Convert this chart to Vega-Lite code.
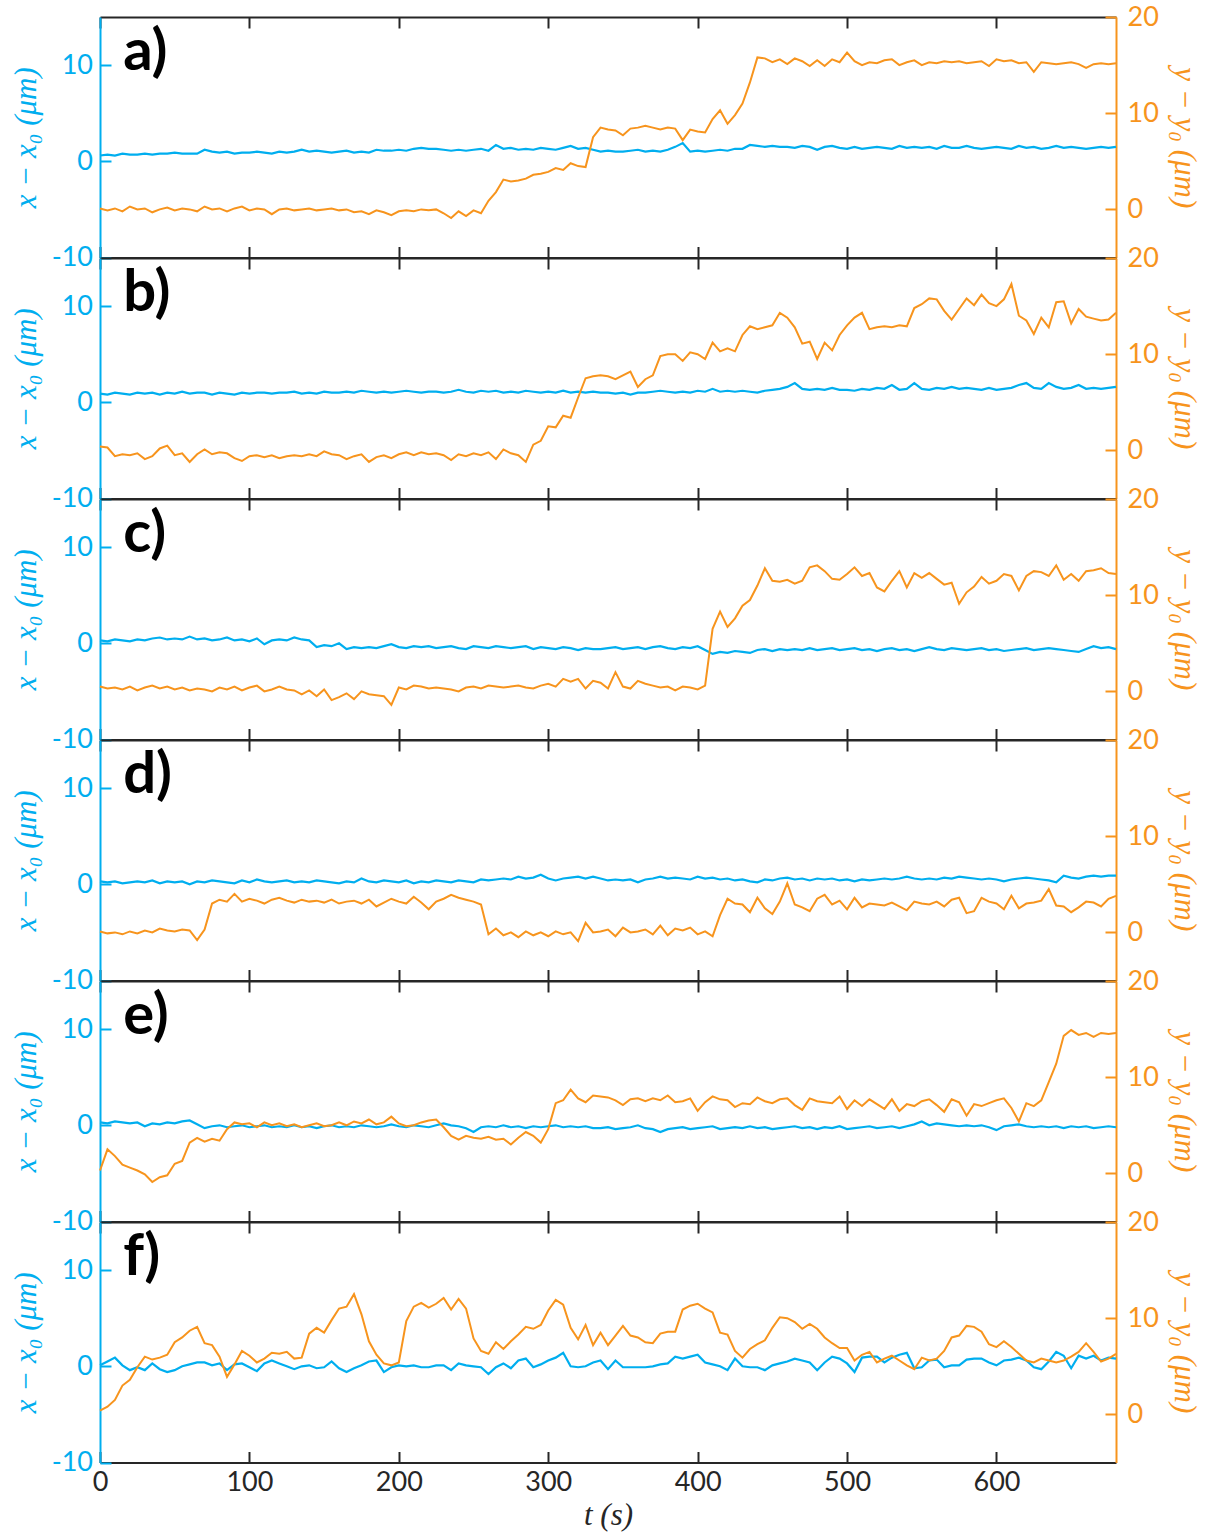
{
  "$schema": "https://vega.github.io/schema/vega-lite/v6.json",
  "background": "white",
  "padding": {"left": 10, "top": 3, "right": 5, "bottom": 5},
  "bounds": "flush",
  "spacing": 0,
  "config": {
    "view": {"stroke": null},
    "axis": {"grid": false, "labelFlush": false, "labelOverlap": false, "tickSize": -11, "tickWidth": 2, "domainWidth": 2, "labelFont": "Lato", "labelFontSize": 27, "titleFont": "Liberation Serif", "titleFontStyle": "italic", "titleFontWeight": "normal", "titleFontSize": 31},
    "axisX": {"domainColor": "#262626", "tickColor": "#262626", "labelColor": "#262626", "titleColor": "#262626"},
    "axisLeft": {"domainColor": "#00AEEF", "tickColor": "#00AEEF", "labelColor": "#00AEEF", "titleColor": "#00AEEF", "labelPadding": 18.5, "titlePadding": 9, "labelExpr": "replace(datum.label, '\u2212', '-')"},
    "axisRight": {"domainColor": "#F7941D", "tickColor": "#F7941D", "labelColor": "#F7941D", "titleColor": "#F7941D", "labelPadding": 22, "titlePadding": 9}
  },
  "data": {"values": [
    {"p":"a","t":0,"x":0.6,"y":0.1},{"p":"a","t":5,"x":0.7,"y":-0.1},{"p":"a","t":10,"x":0.6,"y":0.1},{"p":"a","t":15,"x":0.8,"y":-0.2},{"p":"a","t":20,"x":0.7,"y":0.3},{"p":"a","t":25,"x":0.7,"y":0.0},{"p":"a","t":30,"x":0.8,"y":0.1},{"p":"a","t":35,"x":0.7,"y":-0.3},{"p":"a","t":40,"x":0.8,"y":0.0},{"p":"a","t":45,"x":0.8,"y":0.2},{"p":"a","t":50,"x":0.9,"y":-0.1},{"p":"a","t":55,"x":0.8,"y":0.1},{"p":"a","t":60,"x":0.8,"y":0.0},{"p":"a","t":65,"x":0.8,"y":-0.2},{"p":"a","t":70,"x":1.2,"y":0.3},{"p":"a","t":75,"x":1.0,"y":0.0},{"p":"a","t":80,"x":0.9,"y":0.1},{"p":"a","t":85,"x":1.0,"y":-0.2},{"p":"a","t":90,"x":0.8,"y":0.1},{"p":"a","t":95,"x":0.9,"y":0.3},{"p":"a","t":100,"x":0.9,"y":-0.1},{"p":"a","t":105,"x":1.0,"y":0.1},{"p":"a","t":110,"x":0.9,"y":0.0},{"p":"a","t":115,"x":0.8,"y":-0.5},{"p":"a","t":120,"x":1.0,"y":0.0},{"p":"a","t":125,"x":0.9,"y":0.1},{"p":"a","t":130,"x":1.0,"y":-0.1},{"p":"a","t":135,"x":1.2,"y":0.0},{"p":"a","t":140,"x":1.0,"y":0.1},{"p":"a","t":145,"x":1.1,"y":-0.1},{"p":"a","t":150,"x":1.0,"y":0.0},{"p":"a","t":155,"x":0.9,"y":0.1},{"p":"a","t":160,"x":1.0,"y":-0.1},{"p":"a","t":165,"x":1.1,"y":0.0},{"p":"a","t":170,"x":0.9,"y":-0.3},{"p":"a","t":175,"x":1.0,"y":-0.2},{"p":"a","t":180,"x":0.9,"y":-0.5},{"p":"a","t":185,"x":1.2,"y":-0.1},{"p":"a","t":190,"x":1.1,"y":-0.3},{"p":"a","t":195,"x":1.1,"y":-0.6},{"p":"a","t":200,"x":1.2,"y":-0.2},{"p":"a","t":205,"x":1.1,"y":-0.1},{"p":"a","t":210,"x":1.3,"y":-0.2},{"p":"a","t":215,"x":1.4,"y":0.0},{"p":"a","t":220,"x":1.3,"y":-0.1},{"p":"a","t":225,"x":1.3,"y":0.0},{"p":"a","t":230,"x":1.2,"y":-0.4},{"p":"a","t":235,"x":1.1,"y":-0.9},{"p":"a","t":240,"x":1.2,"y":-0.2},{"p":"a","t":245,"x":1.1,"y":-0.7},{"p":"a","t":250,"x":1.2,"y":-0.1},{"p":"a","t":255,"x":1.3,"y":-0.4},{"p":"a","t":260,"x":1.1,"y":0.9},{"p":"a","t":265,"x":1.7,"y":1.8},{"p":"a","t":270,"x":1.3,"y":3.1},{"p":"a","t":275,"x":1.4,"y":2.9},{"p":"a","t":280,"x":1.2,"y":3.0},{"p":"a","t":285,"x":1.3,"y":3.2},{"p":"a","t":290,"x":1.2,"y":3.6},{"p":"a","t":295,"x":1.4,"y":3.7},{"p":"a","t":300,"x":1.3,"y":3.9},{"p":"a","t":305,"x":1.2,"y":4.3},{"p":"a","t":310,"x":1.4,"y":4.1},{"p":"a","t":315,"x":1.6,"y":4.8},{"p":"a","t":320,"x":1.3,"y":4.5},{"p":"a","t":325,"x":1.4,"y":4.4},{"p":"a","t":330,"x":1.2,"y":7.5},{"p":"a","t":335,"x":1.0,"y":8.5},{"p":"a","t":340,"x":1.1,"y":8.3},{"p":"a","t":345,"x":1.0,"y":8.2},{"p":"a","t":350,"x":1.0,"y":7.7},{"p":"a","t":355,"x":1.1,"y":8.4},{"p":"a","t":360,"x":1.2,"y":8.5},{"p":"a","t":365,"x":1.0,"y":8.7},{"p":"a","t":370,"x":1.1,"y":8.5},{"p":"a","t":375,"x":1.0,"y":8.3},{"p":"a","t":380,"x":1.2,"y":8.5},{"p":"a","t":385,"x":1.5,"y":8.4},{"p":"a","t":390,"x":1.9,"y":7.2},{"p":"a","t":395,"x":1.0,"y":8.3},{"p":"a","t":400,"x":1.1,"y":8.1},{"p":"a","t":405,"x":1.0,"y":8.0},{"p":"a","t":410,"x":1.1,"y":9.4},{"p":"a","t":415,"x":1.2,"y":10.3},{"p":"a","t":420,"x":1.1,"y":8.9},{"p":"a","t":425,"x":1.3,"y":9.8},{"p":"a","t":430,"x":1.3,"y":11.0},{"p":"a","t":435,"x":1.7,"y":13.2},{"p":"a","t":440,"x":1.6,"y":15.8},{"p":"a","t":445,"x":1.5,"y":15.7},{"p":"a","t":450,"x":1.6,"y":15.3},{"p":"a","t":455,"x":1.5,"y":15.6},{"p":"a","t":460,"x":1.5,"y":15.1},{"p":"a","t":465,"x":1.4,"y":15.7},{"p":"a","t":470,"x":1.6,"y":15.4},{"p":"a","t":475,"x":1.5,"y":14.9},{"p":"a","t":480,"x":1.2,"y":15.5},{"p":"a","t":485,"x":1.5,"y":14.9},{"p":"a","t":490,"x":1.6,"y":15.6},{"p":"a","t":495,"x":1.4,"y":15.3},{"p":"a","t":500,"x":1.3,"y":16.3},{"p":"a","t":505,"x":1.5,"y":15.4},{"p":"a","t":510,"x":1.3,"y":15.0},{"p":"a","t":515,"x":1.4,"y":15.3},{"p":"a","t":520,"x":1.5,"y":15.2},{"p":"a","t":525,"x":1.4,"y":15.5},{"p":"a","t":530,"x":1.3,"y":15.6},{"p":"a","t":535,"x":1.6,"y":15.0},{"p":"a","t":540,"x":1.4,"y":15.3},{"p":"a","t":545,"x":1.5,"y":15.5},{"p":"a","t":550,"x":1.4,"y":15.0},{"p":"a","t":555,"x":1.5,"y":15.3},{"p":"a","t":560,"x":1.3,"y":15.2},{"p":"a","t":565,"x":1.6,"y":15.4},{"p":"a","t":570,"x":1.4,"y":15.3},{"p":"a","t":575,"x":1.4,"y":15.4},{"p":"a","t":580,"x":1.6,"y":15.2},{"p":"a","t":585,"x":1.4,"y":15.3},{"p":"a","t":590,"x":1.3,"y":15.4},{"p":"a","t":595,"x":1.4,"y":14.9},{"p":"a","t":600,"x":1.5,"y":15.6},{"p":"a","t":605,"x":1.4,"y":15.4},{"p":"a","t":610,"x":1.3,"y":15.5},{"p":"a","t":615,"x":1.6,"y":15.2},{"p":"a","t":620,"x":1.4,"y":15.3},{"p":"a","t":625,"x":1.5,"y":14.3},{"p":"a","t":630,"x":1.3,"y":15.3},{"p":"a","t":635,"x":1.4,"y":15.2},{"p":"a","t":640,"x":1.6,"y":15.1},{"p":"a","t":645,"x":1.4,"y":15.2},{"p":"a","t":650,"x":1.5,"y":15.3},{"p":"a","t":655,"x":1.4,"y":15.1},{"p":"a","t":660,"x":1.3,"y":14.7},{"p":"a","t":665,"x":1.4,"y":15.1},{"p":"a","t":670,"x":1.5,"y":15.2},{"p":"a","t":675,"x":1.4,"y":15.1},{"p":"a","t":680,"x":1.5,"y":15.2},
    {"p":"b","t":0,"x":0.9,"y":0.4},{"p":"b","t":5,"x":0.8,"y":0.3},{"p":"b","t":10,"x":1.0,"y":-0.6},{"p":"b","t":15,"x":0.9,"y":-0.4},{"p":"b","t":20,"x":0.8,"y":-0.5},{"p":"b","t":25,"x":1.0,"y":-0.3},{"p":"b","t":30,"x":0.9,"y":-0.9},{"p":"b","t":35,"x":1.0,"y":-0.6},{"p":"b","t":40,"x":0.8,"y":0.2},{"p":"b","t":45,"x":1.0,"y":0.5},{"p":"b","t":50,"x":0.9,"y":-0.5},{"p":"b","t":55,"x":1.1,"y":-0.3},{"p":"b","t":60,"x":0.9,"y":-1.2},{"p":"b","t":65,"x":1.0,"y":-0.4},{"p":"b","t":70,"x":1.0,"y":0.1},{"p":"b","t":75,"x":0.8,"y":-0.4},{"p":"b","t":80,"x":1.0,"y":-0.2},{"p":"b","t":85,"x":0.9,"y":-0.3},{"p":"b","t":90,"x":0.8,"y":-0.8},{"p":"b","t":95,"x":1.0,"y":-1.1},{"p":"b","t":100,"x":0.9,"y":-0.6},{"p":"b","t":105,"x":1.0,"y":-0.5},{"p":"b","t":110,"x":1.0,"y":-0.7},{"p":"b","t":115,"x":0.9,"y":-0.5},{"p":"b","t":120,"x":1.0,"y":-0.8},{"p":"b","t":125,"x":1.0,"y":-0.6},{"p":"b","t":130,"x":1.1,"y":-0.5},{"p":"b","t":135,"x":0.9,"y":-0.6},{"p":"b","t":140,"x":1.0,"y":-0.4},{"p":"b","t":145,"x":0.9,"y":-0.6},{"p":"b","t":150,"x":1.1,"y":-0.1},{"p":"b","t":155,"x":1.0,"y":-0.4},{"p":"b","t":160,"x":1.0,"y":-0.5},{"p":"b","t":165,"x":1.1,"y":-0.9},{"p":"b","t":170,"x":1.0,"y":-0.6},{"p":"b","t":175,"x":1.2,"y":-0.4},{"p":"b","t":180,"x":1.1,"y":-1.2},{"p":"b","t":185,"x":1.0,"y":-0.7},{"p":"b","t":190,"x":1.1,"y":-0.5},{"p":"b","t":195,"x":1.0,"y":-0.8},{"p":"b","t":200,"x":1.1,"y":-0.4},{"p":"b","t":205,"x":1.2,"y":-0.2},{"p":"b","t":210,"x":1.1,"y":-0.5},{"p":"b","t":215,"x":1.0,"y":-0.2},{"p":"b","t":220,"x":1.1,"y":-0.4},{"p":"b","t":225,"x":1.1,"y":-0.3},{"p":"b","t":230,"x":1.0,"y":-0.5},{"p":"b","t":235,"x":1.1,"y":-1.0},{"p":"b","t":240,"x":1.3,"y":-0.4},{"p":"b","t":245,"x":1.1,"y":-0.6},{"p":"b","t":250,"x":1.0,"y":-0.3},{"p":"b","t":255,"x":1.2,"y":-0.5},{"p":"b","t":260,"x":1.1,"y":-0.2},{"p":"b","t":265,"x":1.2,"y":-0.9},{"p":"b","t":270,"x":1.0,"y":0.1},{"p":"b","t":275,"x":1.1,"y":-0.3},{"p":"b","t":280,"x":1.0,"y":-0.5},{"p":"b","t":285,"x":1.2,"y":-1.2},{"p":"b","t":290,"x":1.1,"y":0.6},{"p":"b","t":295,"x":1.0,"y":1.0},{"p":"b","t":300,"x":1.1,"y":2.5},{"p":"b","t":305,"x":1.0,"y":2.4},{"p":"b","t":310,"x":1.2,"y":3.6},{"p":"b","t":315,"x":1.0,"y":3.4},{"p":"b","t":320,"x":1.1,"y":5.5},{"p":"b","t":325,"x":1.0,"y":7.5},{"p":"b","t":330,"x":1.1,"y":7.7},{"p":"b","t":335,"x":1.0,"y":7.8},{"p":"b","t":340,"x":1.0,"y":7.7},{"p":"b","t":345,"x":0.9,"y":7.4},{"p":"b","t":350,"x":1.0,"y":7.8},{"p":"b","t":355,"x":0.8,"y":8.2},{"p":"b","t":360,"x":1.0,"y":6.6},{"p":"b","t":365,"x":1.0,"y":7.4},{"p":"b","t":370,"x":1.1,"y":7.8},{"p":"b","t":375,"x":1.2,"y":9.8},{"p":"b","t":380,"x":1.1,"y":10.0},{"p":"b","t":385,"x":1.0,"y":10.0},{"p":"b","t":390,"x":1.1,"y":9.3},{"p":"b","t":395,"x":1.0,"y":10.2},{"p":"b","t":400,"x":1.2,"y":10.0},{"p":"b","t":405,"x":1.1,"y":9.5},{"p":"b","t":410,"x":1.4,"y":11.2},{"p":"b","t":415,"x":1.1,"y":10.3},{"p":"b","t":420,"x":1.2,"y":10.6},{"p":"b","t":425,"x":1.1,"y":10.3},{"p":"b","t":430,"x":1.2,"y":12.0},{"p":"b","t":435,"x":1.1,"y":12.9},{"p":"b","t":440,"x":1.0,"y":12.6},{"p":"b","t":445,"x":1.2,"y":12.8},{"p":"b","t":450,"x":1.3,"y":13.0},{"p":"b","t":455,"x":1.4,"y":14.3},{"p":"b","t":460,"x":1.6,"y":13.8},{"p":"b","t":465,"x":2.0,"y":12.8},{"p":"b","t":470,"x":1.4,"y":11.1},{"p":"b","t":475,"x":1.3,"y":11.3},{"p":"b","t":480,"x":1.4,"y":9.5},{"p":"b","t":485,"x":1.3,"y":11.2},{"p":"b","t":490,"x":1.5,"y":10.4},{"p":"b","t":495,"x":1.3,"y":12.0},{"p":"b","t":500,"x":1.3,"y":13.0},{"p":"b","t":505,"x":1.2,"y":13.8},{"p":"b","t":510,"x":1.4,"y":14.3},{"p":"b","t":515,"x":1.3,"y":12.6},{"p":"b","t":520,"x":1.5,"y":12.8},{"p":"b","t":525,"x":1.4,"y":12.9},{"p":"b","t":530,"x":1.8,"y":12.8},{"p":"b","t":535,"x":1.3,"y":13.0},{"p":"b","t":540,"x":1.4,"y":12.9},{"p":"b","t":545,"x":2.0,"y":14.8},{"p":"b","t":550,"x":1.4,"y":15.2},{"p":"b","t":555,"x":1.3,"y":15.8},{"p":"b","t":560,"x":1.5,"y":15.7},{"p":"b","t":565,"x":1.4,"y":14.5},{"p":"b","t":570,"x":1.6,"y":13.6},{"p":"b","t":575,"x":1.4,"y":14.7},{"p":"b","t":580,"x":1.5,"y":15.8},{"p":"b","t":585,"x":1.4,"y":15.1},{"p":"b","t":590,"x":1.3,"y":16.2},{"p":"b","t":595,"x":1.5,"y":15.3},{"p":"b","t":600,"x":1.3,"y":15.0},{"p":"b","t":605,"x":1.4,"y":15.7},{"p":"b","t":610,"x":1.5,"y":17.3},{"p":"b","t":615,"x":1.8,"y":14.0},{"p":"b","t":620,"x":2.0,"y":13.5},{"p":"b","t":625,"x":1.5,"y":12.1},{"p":"b","t":630,"x":1.4,"y":13.8},{"p":"b","t":635,"x":2.0,"y":12.8},{"p":"b","t":640,"x":1.6,"y":15.4},{"p":"b","t":645,"x":1.4,"y":15.5},{"p":"b","t":650,"x":1.5,"y":13.2},{"p":"b","t":655,"x":1.8,"y":14.7},{"p":"b","t":660,"x":1.4,"y":13.9},{"p":"b","t":665,"x":1.5,"y":13.7},{"p":"b","t":670,"x":1.4,"y":13.5},{"p":"b","t":675,"x":1.5,"y":13.6},{"p":"b","t":680,"x":1.6,"y":14.3},
    {"p":"c","t":0,"x":0.3,"y":0.5},{"p":"c","t":5,"x":0.2,"y":0.3},{"p":"c","t":10,"x":0.4,"y":0.4},{"p":"c","t":15,"x":0.3,"y":0.2},{"p":"c","t":20,"x":0.2,"y":0.5},{"p":"c","t":25,"x":0.4,"y":0.1},{"p":"c","t":30,"x":0.3,"y":0.4},{"p":"c","t":35,"x":0.5,"y":0.6},{"p":"c","t":40,"x":0.6,"y":0.3},{"p":"c","t":45,"x":0.4,"y":0.5},{"p":"c","t":50,"x":0.5,"y":0.2},{"p":"c","t":55,"x":0.4,"y":0.4},{"p":"c","t":60,"x":0.7,"y":0.1},{"p":"c","t":65,"x":0.4,"y":0.3},{"p":"c","t":70,"x":0.5,"y":0.2},{"p":"c","t":75,"x":0.3,"y":0.0},{"p":"c","t":80,"x":0.4,"y":0.4},{"p":"c","t":85,"x":0.6,"y":0.2},{"p":"c","t":90,"x":0.3,"y":0.5},{"p":"c","t":95,"x":0.4,"y":0.1},{"p":"c","t":100,"x":0.2,"y":0.4},{"p":"c","t":105,"x":0.5,"y":0.6},{"p":"c","t":110,"x":-0.1,"y":0.0},{"p":"c","t":115,"x":0.3,"y":0.2},{"p":"c","t":120,"x":0.4,"y":0.5},{"p":"c","t":125,"x":0.3,"y":0.2},{"p":"c","t":130,"x":0.6,"y":0.1},{"p":"c","t":135,"x":0.4,"y":-0.3},{"p":"c","t":140,"x":0.3,"y":0.1},{"p":"c","t":145,"x":-0.4,"y":-0.5},{"p":"c","t":150,"x":-0.2,"y":0.2},{"p":"c","t":155,"x":-0.3,"y":-0.9},{"p":"c","t":160,"x":0.0,"y":-0.6},{"p":"c","t":165,"x":-0.6,"y":-0.2},{"p":"c","t":170,"x":-0.4,"y":-0.8},{"p":"c","t":175,"x":-0.5,"y":0.0},{"p":"c","t":180,"x":-0.4,"y":-0.3},{"p":"c","t":185,"x":-0.5,"y":-0.4},{"p":"c","t":190,"x":-0.3,"y":-0.5},{"p":"c","t":195,"x":-0.1,"y":-1.4},{"p":"c","t":200,"x":-0.4,"y":0.4},{"p":"c","t":205,"x":-0.5,"y":0.2},{"p":"c","t":210,"x":-0.3,"y":0.6},{"p":"c","t":215,"x":-0.4,"y":0.5},{"p":"c","t":220,"x":-0.3,"y":0.3},{"p":"c","t":225,"x":-0.5,"y":0.4},{"p":"c","t":230,"x":-0.4,"y":0.3},{"p":"c","t":235,"x":-0.3,"y":0.2},{"p":"c","t":240,"x":-0.5,"y":0.0},{"p":"c","t":245,"x":-0.6,"y":0.4},{"p":"c","t":250,"x":-0.3,"y":0.5},{"p":"c","t":255,"x":-0.4,"y":0.3},{"p":"c","t":260,"x":-0.5,"y":0.6},{"p":"c","t":265,"x":-0.3,"y":0.5},{"p":"c","t":270,"x":-0.4,"y":0.4},{"p":"c","t":275,"x":-0.5,"y":0.5},{"p":"c","t":280,"x":-0.4,"y":0.6},{"p":"c","t":285,"x":-0.3,"y":0.4},{"p":"c","t":290,"x":-0.6,"y":0.3},{"p":"c","t":295,"x":-0.4,"y":0.6},{"p":"c","t":300,"x":-0.5,"y":0.8},{"p":"c","t":305,"x":-0.6,"y":0.5},{"p":"c","t":310,"x":-0.4,"y":1.3},{"p":"c","t":315,"x":-0.5,"y":1.0},{"p":"c","t":320,"x":-0.7,"y":1.3},{"p":"c","t":325,"x":-0.5,"y":0.3},{"p":"c","t":330,"x":-0.6,"y":1.1},{"p":"c","t":335,"x":-0.6,"y":0.9},{"p":"c","t":340,"x":-0.5,"y":0.3},{"p":"c","t":345,"x":-0.4,"y":2.0},{"p":"c","t":350,"x":-0.6,"y":0.5},{"p":"c","t":355,"x":-0.5,"y":0.3},{"p":"c","t":360,"x":-0.4,"y":1.1},{"p":"c","t":365,"x":-0.6,"y":0.8},{"p":"c","t":370,"x":-0.4,"y":0.6},{"p":"c","t":375,"x":-0.3,"y":0.4},{"p":"c","t":380,"x":-0.5,"y":0.5},{"p":"c","t":385,"x":-0.6,"y":0.1},{"p":"c","t":390,"x":-0.4,"y":0.5},{"p":"c","t":395,"x":-0.5,"y":0.4},{"p":"c","t":400,"x":-0.3,"y":0.2},{"p":"c","t":405,"x":-0.7,"y":0.6},{"p":"c","t":410,"x":-1.1,"y":6.5},{"p":"c","t":415,"x":-0.9,"y":8.3},{"p":"c","t":420,"x":-1.0,"y":6.7},{"p":"c","t":425,"x":-0.8,"y":7.6},{"p":"c","t":430,"x":-0.9,"y":8.9},{"p":"c","t":435,"x":-1.0,"y":9.5},{"p":"c","t":440,"x":-0.7,"y":11.0},{"p":"c","t":445,"x":-0.6,"y":12.8},{"p":"c","t":450,"x":-0.8,"y":11.5},{"p":"c","t":455,"x":-0.6,"y":11.4},{"p":"c","t":460,"x":-0.7,"y":11.6},{"p":"c","t":465,"x":-0.6,"y":11.2},{"p":"c","t":470,"x":-0.7,"y":11.5},{"p":"c","t":475,"x":-0.5,"y":12.9},{"p":"c","t":480,"x":-0.7,"y":13.1},{"p":"c","t":485,"x":-0.6,"y":12.5},{"p":"c","t":490,"x":-0.5,"y":11.7},{"p":"c","t":495,"x":-0.7,"y":11.6},{"p":"c","t":500,"x":-0.6,"y":12.2},{"p":"c","t":505,"x":-0.5,"y":12.9},{"p":"c","t":510,"x":-0.7,"y":12.0},{"p":"c","t":515,"x":-0.6,"y":12.3},{"p":"c","t":520,"x":-0.8,"y":10.8},{"p":"c","t":525,"x":-0.6,"y":10.4},{"p":"c","t":530,"x":-0.5,"y":11.5},{"p":"c","t":535,"x":-0.7,"y":12.5},{"p":"c","t":540,"x":-0.6,"y":10.8},{"p":"c","t":545,"x":-0.8,"y":12.3},{"p":"c","t":550,"x":-0.6,"y":11.8},{"p":"c","t":555,"x":-0.4,"y":12.3},{"p":"c","t":560,"x":-0.6,"y":11.7},{"p":"c","t":565,"x":-0.7,"y":11.1},{"p":"c","t":570,"x":-0.5,"y":11.3},{"p":"c","t":575,"x":-0.6,"y":9.1},{"p":"c","t":580,"x":-0.7,"y":10.3},{"p":"c","t":585,"x":-0.6,"y":10.9},{"p":"c","t":590,"x":-0.5,"y":11.9},{"p":"c","t":595,"x":-0.7,"y":11.2},{"p":"c","t":600,"x":-0.6,"y":11.5},{"p":"c","t":605,"x":-0.8,"y":12.2},{"p":"c","t":610,"x":-0.7,"y":12.0},{"p":"c","t":615,"x":-0.6,"y":10.5},{"p":"c","t":620,"x":-0.5,"y":12.0},{"p":"c","t":625,"x":-0.7,"y":12.5},{"p":"c","t":630,"x":-0.6,"y":12.4},{"p":"c","t":635,"x":-0.5,"y":12.0},{"p":"c","t":640,"x":-0.6,"y":13.1},{"p":"c","t":645,"x":-0.7,"y":11.6},{"p":"c","t":650,"x":-0.8,"y":12.2},{"p":"c","t":655,"x":-0.9,"y":11.5},{"p":"c","t":660,"x":-0.6,"y":12.5},{"p":"c","t":665,"x":-0.3,"y":12.6},{"p":"c","t":670,"x":-0.5,"y":12.8},{"p":"c","t":675,"x":-0.4,"y":12.3},{"p":"c","t":680,"x":-0.6,"y":12.2},
    {"p":"d","t":0,"x":0.3,"y":0.1},{"p":"d","t":5,"x":0.2,"y":-0.1},{"p":"d","t":10,"x":0.3,"y":0.0},{"p":"d","t":15,"x":0.1,"y":-0.2},{"p":"d","t":20,"x":0.2,"y":0.1},{"p":"d","t":25,"x":0.3,"y":-0.1},{"p":"d","t":30,"x":0.2,"y":0.2},{"p":"d","t":35,"x":0.4,"y":0.0},{"p":"d","t":40,"x":0.1,"y":0.4},{"p":"d","t":45,"x":0.3,"y":0.2},{"p":"d","t":50,"x":0.2,"y":0.1},{"p":"d","t":55,"x":0.3,"y":0.3},{"p":"d","t":60,"x":0.0,"y":0.2},{"p":"d","t":65,"x":0.3,"y":-0.8},{"p":"d","t":70,"x":0.2,"y":0.3},{"p":"d","t":75,"x":0.4,"y":3.0},{"p":"d","t":80,"x":0.3,"y":3.4},{"p":"d","t":85,"x":0.2,"y":3.2},{"p":"d","t":90,"x":0.1,"y":4.0},{"p":"d","t":95,"x":0.4,"y":3.2},{"p":"d","t":100,"x":0.2,"y":3.5},{"p":"d","t":105,"x":0.5,"y":3.3},{"p":"d","t":110,"x":0.3,"y":3.0},{"p":"d","t":115,"x":0.2,"y":3.4},{"p":"d","t":120,"x":0.3,"y":3.6},{"p":"d","t":125,"x":0.4,"y":3.3},{"p":"d","t":130,"x":0.2,"y":3.1},{"p":"d","t":135,"x":0.3,"y":3.4},{"p":"d","t":140,"x":0.2,"y":3.2},{"p":"d","t":145,"x":0.4,"y":3.3},{"p":"d","t":150,"x":0.3,"y":3.1},{"p":"d","t":155,"x":0.2,"y":3.4},{"p":"d","t":160,"x":0.1,"y":3.0},{"p":"d","t":165,"x":0.3,"y":3.2},{"p":"d","t":170,"x":0.2,"y":3.3},{"p":"d","t":175,"x":0.6,"y":3.0},{"p":"d","t":180,"x":0.3,"y":3.4},{"p":"d","t":185,"x":0.2,"y":2.7},{"p":"d","t":190,"x":0.4,"y":3.1},{"p":"d","t":195,"x":0.3,"y":3.5},{"p":"d","t":200,"x":0.2,"y":3.2},{"p":"d","t":205,"x":0.4,"y":3.0},{"p":"d","t":210,"x":0.1,"y":3.7},{"p":"d","t":215,"x":0.3,"y":3.1},{"p":"d","t":220,"x":0.2,"y":2.4},{"p":"d","t":225,"x":0.4,"y":3.2},{"p":"d","t":230,"x":0.3,"y":3.5},{"p":"d","t":235,"x":0.2,"y":3.9},{"p":"d","t":240,"x":0.4,"y":3.6},{"p":"d","t":245,"x":0.3,"y":3.4},{"p":"d","t":250,"x":0.2,"y":3.2},{"p":"d","t":255,"x":0.5,"y":2.9},{"p":"d","t":260,"x":0.4,"y":-0.2},{"p":"d","t":265,"x":0.5,"y":0.4},{"p":"d","t":270,"x":0.6,"y":-0.3},{"p":"d","t":275,"x":0.5,"y":0.0},{"p":"d","t":280,"x":0.8,"y":-0.5},{"p":"d","t":285,"x":0.6,"y":0.1},{"p":"d","t":290,"x":0.7,"y":-0.3},{"p":"d","t":295,"x":1.0,"y":0.0},{"p":"d","t":300,"x":0.6,"y":-0.4},{"p":"d","t":305,"x":0.4,"y":0.1},{"p":"d","t":310,"x":0.6,"y":-0.2},{"p":"d","t":315,"x":0.7,"y":0.0},{"p":"d","t":320,"x":0.8,"y":-0.9},{"p":"d","t":325,"x":0.6,"y":1.0},{"p":"d","t":330,"x":0.8,"y":0.0},{"p":"d","t":335,"x":0.6,"y":0.1},{"p":"d","t":340,"x":0.4,"y":0.3},{"p":"d","t":345,"x":0.5,"y":-0.4},{"p":"d","t":350,"x":0.4,"y":0.5},{"p":"d","t":355,"x":0.5,"y":0.0},{"p":"d","t":360,"x":0.2,"y":0.1},{"p":"d","t":365,"x":0.5,"y":0.3},{"p":"d","t":370,"x":0.6,"y":-0.2},{"p":"d","t":375,"x":0.8,"y":0.7},{"p":"d","t":380,"x":0.6,"y":-0.3},{"p":"d","t":385,"x":0.7,"y":0.4},{"p":"d","t":390,"x":0.6,"y":0.2},{"p":"d","t":395,"x":0.5,"y":0.5},{"p":"d","t":400,"x":0.8,"y":-0.2},{"p":"d","t":405,"x":0.6,"y":0.1},{"p":"d","t":410,"x":0.7,"y":-0.4},{"p":"d","t":415,"x":0.5,"y":1.8},{"p":"d","t":420,"x":0.6,"y":3.5},{"p":"d","t":425,"x":0.4,"y":3.0},{"p":"d","t":430,"x":0.5,"y":2.9},{"p":"d","t":435,"x":0.3,"y":2.1},{"p":"d","t":440,"x":0.2,"y":3.6},{"p":"d","t":445,"x":0.5,"y":2.5},{"p":"d","t":450,"x":0.4,"y":1.9},{"p":"d","t":455,"x":0.6,"y":3.2},{"p":"d","t":460,"x":0.7,"y":5.1},{"p":"d","t":465,"x":0.5,"y":2.9},{"p":"d","t":470,"x":0.6,"y":2.6},{"p":"d","t":475,"x":0.4,"y":2.2},{"p":"d","t":480,"x":0.6,"y":3.5},{"p":"d","t":485,"x":0.5,"y":3.9},{"p":"d","t":490,"x":0.6,"y":2.9},{"p":"d","t":495,"x":0.4,"y":3.3},{"p":"d","t":500,"x":0.5,"y":2.4},{"p":"d","t":505,"x":0.3,"y":3.6},{"p":"d","t":510,"x":0.5,"y":2.6},{"p":"d","t":515,"x":0.4,"y":3.0},{"p":"d","t":520,"x":0.5,"y":2.9},{"p":"d","t":525,"x":0.6,"y":2.8},{"p":"d","t":530,"x":0.5,"y":3.1},{"p":"d","t":535,"x":0.6,"y":2.7},{"p":"d","t":540,"x":0.8,"y":2.3},{"p":"d","t":545,"x":0.6,"y":3.2},{"p":"d","t":550,"x":0.5,"y":3.0},{"p":"d","t":555,"x":0.6,"y":2.9},{"p":"d","t":560,"x":0.5,"y":3.2},{"p":"d","t":565,"x":0.7,"y":2.7},{"p":"d","t":570,"x":0.6,"y":3.4},{"p":"d","t":575,"x":0.8,"y":3.6},{"p":"d","t":580,"x":0.7,"y":2.0},{"p":"d","t":585,"x":0.6,"y":2.2},{"p":"d","t":590,"x":0.5,"y":3.6},{"p":"d","t":595,"x":0.6,"y":3.2},{"p":"d","t":600,"x":0.5,"y":3.0},{"p":"d","t":605,"x":0.3,"y":2.4},{"p":"d","t":610,"x":0.5,"y":3.8},{"p":"d","t":615,"x":0.6,"y":2.5},{"p":"d","t":620,"x":0.7,"y":3.0},{"p":"d","t":625,"x":0.6,"y":3.1},{"p":"d","t":630,"x":0.5,"y":3.3},{"p":"d","t":635,"x":0.4,"y":4.5},{"p":"d","t":640,"x":0.2,"y":2.8},{"p":"d","t":645,"x":0.9,"y":2.7},{"p":"d","t":650,"x":0.7,"y":2.1},{"p":"d","t":655,"x":0.6,"y":2.6},{"p":"d","t":660,"x":0.8,"y":3.2},{"p":"d","t":665,"x":0.9,"y":3.1},{"p":"d","t":670,"x":0.8,"y":2.7},{"p":"d","t":675,"x":0.9,"y":3.5},{"p":"d","t":680,"x":0.9,"y":3.8},
    {"p":"e","t":0,"x":0.3,"y":0.3},{"p":"e","t":5,"x":0.2,"y":2.5},{"p":"e","t":10,"x":0.4,"y":1.8},{"p":"e","t":15,"x":0.3,"y":0.9},{"p":"e","t":20,"x":0.2,"y":0.6},{"p":"e","t":25,"x":0.3,"y":0.3},{"p":"e","t":30,"x":-0.1,"y":-0.1},{"p":"e","t":35,"x":0.2,"y":-0.9},{"p":"e","t":40,"x":0.1,"y":-0.4},{"p":"e","t":45,"x":0.3,"y":-0.2},{"p":"e","t":50,"x":0.2,"y":1.0},{"p":"e","t":55,"x":0.4,"y":1.3},{"p":"e","t":60,"x":0.5,"y":3.2},{"p":"e","t":65,"x":0.1,"y":3.7},{"p":"e","t":70,"x":-0.3,"y":3.3},{"p":"e","t":75,"x":-0.1,"y":3.6},{"p":"e","t":80,"x":0.0,"y":3.4},{"p":"e","t":85,"x":-0.2,"y":4.6},{"p":"e","t":90,"x":-0.1,"y":5.3},{"p":"e","t":95,"x":0.0,"y":5.1},{"p":"e","t":100,"x":-0.2,"y":5.2},{"p":"e","t":105,"x":-0.1,"y":4.8},{"p":"e","t":110,"x":0.0,"y":5.3},{"p":"e","t":115,"x":-0.2,"y":5.0},{"p":"e","t":120,"x":-0.1,"y":5.2},{"p":"e","t":125,"x":-0.2,"y":4.9},{"p":"e","t":130,"x":0.0,"y":5.1},{"p":"e","t":135,"x":-0.2,"y":4.8},{"p":"e","t":140,"x":-0.1,"y":5.0},{"p":"e","t":145,"x":-0.3,"y":5.2},{"p":"e","t":150,"x":-0.1,"y":4.9},{"p":"e","t":155,"x":0.0,"y":5.0},{"p":"e","t":160,"x":-0.2,"y":5.3},{"p":"e","t":165,"x":-0.1,"y":5.0},{"p":"e","t":170,"x":-0.2,"y":5.4},{"p":"e","t":175,"x":0.0,"y":5.2},{"p":"e","t":180,"x":-0.1,"y":5.6},{"p":"e","t":185,"x":-0.2,"y":5.1},{"p":"e","t":190,"x":-0.1,"y":5.3},{"p":"e","t":195,"x":0.1,"y":5.9},{"p":"e","t":200,"x":-0.1,"y":5.2},{"p":"e","t":205,"x":-0.2,"y":4.9},{"p":"e","t":210,"x":0.0,"y":5.0},{"p":"e","t":215,"x":-0.1,"y":5.3},{"p":"e","t":220,"x":-0.2,"y":5.5},{"p":"e","t":225,"x":0.0,"y":5.6},{"p":"e","t":230,"x":0.2,"y":4.8},{"p":"e","t":235,"x":0.0,"y":3.9},{"p":"e","t":240,"x":-0.1,"y":3.5},{"p":"e","t":245,"x":-0.3,"y":3.9},{"p":"e","t":250,"x":-0.7,"y":3.7},{"p":"e","t":255,"x":-0.2,"y":3.6},{"p":"e","t":260,"x":-0.1,"y":3.8},{"p":"e","t":265,"x":-0.2,"y":3.5},{"p":"e","t":270,"x":0.0,"y":3.6},{"p":"e","t":275,"x":-0.2,"y":3.0},{"p":"e","t":280,"x":-0.1,"y":3.7},{"p":"e","t":285,"x":-0.3,"y":4.3},{"p":"e","t":290,"x":-0.1,"y":3.9},{"p":"e","t":295,"x":-0.2,"y":3.2},{"p":"e","t":300,"x":-0.1,"y":4.6},{"p":"e","t":305,"x":0.0,"y":7.3},{"p":"e","t":310,"x":-0.2,"y":7.6},{"p":"e","t":315,"x":-0.1,"y":8.7},{"p":"e","t":320,"x":-0.2,"y":7.8},{"p":"e","t":325,"x":-0.1,"y":7.4},{"p":"e","t":330,"x":-0.3,"y":8.1},{"p":"e","t":335,"x":-0.3,"y":8.0},{"p":"e","t":340,"x":-0.2,"y":7.9},{"p":"e","t":345,"x":-0.4,"y":7.6},{"p":"e","t":350,"x":-0.3,"y":7.1},{"p":"e","t":355,"x":-0.2,"y":7.7},{"p":"e","t":360,"x":0.0,"y":7.8},{"p":"e","t":365,"x":-0.3,"y":7.5},{"p":"e","t":370,"x":-0.4,"y":7.8},{"p":"e","t":375,"x":-0.7,"y":7.6},{"p":"e","t":380,"x":-0.4,"y":8.1},{"p":"e","t":385,"x":-0.3,"y":7.4},{"p":"e","t":390,"x":-0.2,"y":7.5},{"p":"e","t":395,"x":-0.4,"y":7.8},{"p":"e","t":400,"x":-0.3,"y":6.5},{"p":"e","t":405,"x":-0.2,"y":7.4},{"p":"e","t":410,"x":-0.1,"y":8.0},{"p":"e","t":415,"x":-0.4,"y":7.7},{"p":"e","t":420,"x":-0.3,"y":7.6},{"p":"e","t":425,"x":-0.2,"y":6.9},{"p":"e","t":430,"x":-0.3,"y":7.3},{"p":"e","t":435,"x":-0.1,"y":7.2},{"p":"e","t":440,"x":-0.3,"y":7.9},{"p":"e","t":445,"x":-0.2,"y":7.5},{"p":"e","t":450,"x":-0.4,"y":7.3},{"p":"e","t":455,"x":-0.3,"y":7.7},{"p":"e","t":460,"x":-0.2,"y":7.8},{"p":"e","t":465,"x":-0.1,"y":7.1},{"p":"e","t":470,"x":-0.3,"y":6.6},{"p":"e","t":475,"x":-0.2,"y":7.8},{"p":"e","t":480,"x":-0.4,"y":7.5},{"p":"e","t":485,"x":-0.2,"y":7.4},{"p":"e","t":490,"x":-0.3,"y":7.3},{"p":"e","t":495,"x":-0.1,"y":8.0},{"p":"e","t":500,"x":-0.4,"y":6.7},{"p":"e","t":505,"x":-0.3,"y":7.6},{"p":"e","t":510,"x":-0.2,"y":7.0},{"p":"e","t":515,"x":-0.1,"y":7.7},{"p":"e","t":520,"x":-0.3,"y":7.2},{"p":"e","t":525,"x":-0.2,"y":6.7},{"p":"e","t":530,"x":-0.1,"y":7.7},{"p":"e","t":535,"x":-0.3,"y":6.5},{"p":"e","t":540,"x":-0.1,"y":7.2},{"p":"e","t":545,"x":0.1,"y":7.0},{"p":"e","t":550,"x":0.4,"y":7.5},{"p":"e","t":555,"x":0.0,"y":7.7},{"p":"e","t":560,"x":0.2,"y":7.1},{"p":"e","t":565,"x":0.1,"y":6.4},{"p":"e","t":570,"x":0.0,"y":7.7},{"p":"e","t":575,"x":-0.1,"y":7.4},{"p":"e","t":580,"x":0.0,"y":6.0},{"p":"e","t":585,"x":-0.1,"y":7.2},{"p":"e","t":590,"x":0.0,"y":7.0},{"p":"e","t":595,"x":-0.2,"y":7.3},{"p":"e","t":600,"x":-0.5,"y":7.6},{"p":"e","t":605,"x":-0.1,"y":7.8},{"p":"e","t":610,"x":0.0,"y":6.8},{"p":"e","t":615,"x":0.1,"y":5.4},{"p":"e","t":620,"x":-0.1,"y":7.3},{"p":"e","t":625,"x":-0.2,"y":7.0},{"p":"e","t":630,"x":-0.1,"y":7.6},{"p":"e","t":635,"x":-0.2,"y":9.5},{"p":"e","t":640,"x":-0.1,"y":11.4},{"p":"e","t":645,"x":-0.3,"y":14.3},{"p":"e","t":650,"x":-0.1,"y":14.9},{"p":"e","t":655,"x":-0.2,"y":14.4},{"p":"e","t":660,"x":-0.1,"y":14.6},{"p":"e","t":665,"x":-0.3,"y":14.2},{"p":"e","t":670,"x":-0.2,"y":14.6},{"p":"e","t":675,"x":-0.1,"y":14.5},{"p":"e","t":680,"x":-0.2,"y":14.6},
    {"p":"f","t":0,"x":0.1,"y":0.4},{"p":"f","t":5,"x":0.5,"y":0.8},{"p":"f","t":10,"x":0.9,"y":1.5},{"p":"f","t":15,"x":0.1,"y":3.0},{"p":"f","t":20,"x":-0.4,"y":3.6},{"p":"f","t":25,"x":-0.1,"y":4.9},{"p":"f","t":30,"x":-0.4,"y":6.0},{"p":"f","t":35,"x":0.3,"y":5.7},{"p":"f","t":40,"x":-0.3,"y":5.9},{"p":"f","t":45,"x":-0.6,"y":6.2},{"p":"f","t":50,"x":-0.4,"y":7.5},{"p":"f","t":55,"x":0.0,"y":8.0},{"p":"f","t":60,"x":0.2,"y":8.7},{"p":"f","t":65,"x":0.4,"y":9.1},{"p":"f","t":70,"x":0.4,"y":7.4},{"p":"f","t":75,"x":0.1,"y":7.2},{"p":"f","t":80,"x":0.3,"y":6.0},{"p":"f","t":85,"x":-0.4,"y":3.9},{"p":"f","t":90,"x":0.2,"y":5.2},{"p":"f","t":95,"x":0.3,"y":6.6},{"p":"f","t":100,"x":-0.1,"y":6.1},{"p":"f","t":105,"x":-0.5,"y":5.4},{"p":"f","t":110,"x":0.3,"y":5.8},{"p":"f","t":115,"x":0.6,"y":6.4},{"p":"f","t":120,"x":0.3,"y":6.3},{"p":"f","t":125,"x":0.0,"y":6.5},{"p":"f","t":130,"x":-0.3,"y":5.8},{"p":"f","t":135,"x":0.0,"y":5.9},{"p":"f","t":140,"x":0.1,"y":8.4},{"p":"f","t":145,"x":-0.2,"y":9.0},{"p":"f","t":150,"x":-0.1,"y":8.5},{"p":"f","t":155,"x":0.5,"y":9.8},{"p":"f","t":160,"x":-0.2,"y":11.0},{"p":"f","t":165,"x":-0.6,"y":11.2},{"p":"f","t":170,"x":-0.2,"y":12.5},{"p":"f","t":175,"x":0.1,"y":10.4},{"p":"f","t":180,"x":0.5,"y":7.6},{"p":"f","t":185,"x":0.6,"y":6.2},{"p":"f","t":190,"x":-0.6,"y":5.3},{"p":"f","t":195,"x":-0.1,"y":5.1},{"p":"f","t":200,"x":0.1,"y":5.4},{"p":"f","t":205,"x":0.0,"y":9.7},{"p":"f","t":210,"x":0.1,"y":11.2},{"p":"f","t":215,"x":-0.1,"y":11.6},{"p":"f","t":220,"x":-0.1,"y":11.1},{"p":"f","t":225,"x":0.1,"y":11.5},{"p":"f","t":230,"x":0.1,"y":12.1},{"p":"f","t":235,"x":-0.4,"y":10.9},{"p":"f","t":240,"x":0.3,"y":12.0},{"p":"f","t":245,"x":0.1,"y":11.0},{"p":"f","t":250,"x":0.0,"y":7.9},{"p":"f","t":255,"x":-0.1,"y":6.6},{"p":"f","t":260,"x":-0.8,"y":6.3},{"p":"f","t":265,"x":-0.1,"y":7.5},{"p":"f","t":270,"x":0.3,"y":6.8},{"p":"f","t":275,"x":-0.2,"y":7.6},{"p":"f","t":280,"x":0.6,"y":8.3},{"p":"f","t":285,"x":0.8,"y":9.1},{"p":"f","t":290,"x":-0.1,"y":8.9},{"p":"f","t":295,"x":0.2,"y":9.3},{"p":"f","t":300,"x":0.6,"y":10.8},{"p":"f","t":305,"x":0.9,"y":11.9},{"p":"f","t":310,"x":1.4,"y":11.4},{"p":"f","t":315,"x":0.0,"y":9.0},{"p":"f","t":320,"x":-0.1,"y":7.8},{"p":"f","t":325,"x":0.0,"y":9.3},{"p":"f","t":330,"x":0.4,"y":7.2},{"p":"f","t":335,"x":0.6,"y":8.5},{"p":"f","t":340,"x":-0.3,"y":7.2},{"p":"f","t":345,"x":0.6,"y":8.2},{"p":"f","t":350,"x":-0.1,"y":9.2},{"p":"f","t":355,"x":-0.1,"y":8.2},{"p":"f","t":360,"x":-0.1,"y":8.0},{"p":"f","t":365,"x":-0.1,"y":7.5},{"p":"f","t":370,"x":0.0,"y":7.4},{"p":"f","t":375,"x":0.2,"y":8.4},{"p":"f","t":380,"x":0.3,"y":8.6},{"p":"f","t":385,"x":1.0,"y":8.6},{"p":"f","t":390,"x":0.8,"y":10.9},{"p":"f","t":395,"x":1.0,"y":11.3},{"p":"f","t":400,"x":1.2,"y":11.5},{"p":"f","t":405,"x":0.4,"y":11.0},{"p":"f","t":410,"x":0.2,"y":10.6},{"p":"f","t":415,"x":0.0,"y":8.5},{"p":"f","t":420,"x":-0.4,"y":8.3},{"p":"f","t":425,"x":0.8,"y":6.6},{"p":"f","t":430,"x":0.0,"y":5.9},{"p":"f","t":435,"x":-0.1,"y":6.8},{"p":"f","t":440,"x":-0.1,"y":7.3},{"p":"f","t":445,"x":-0.4,"y":7.7},{"p":"f","t":450,"x":0.1,"y":9.0},{"p":"f","t":455,"x":0.3,"y":10.1},{"p":"f","t":460,"x":0.5,"y":10.0},{"p":"f","t":465,"x":0.8,"y":9.6},{"p":"f","t":470,"x":0.6,"y":8.9},{"p":"f","t":475,"x":0.4,"y":9.4},{"p":"f","t":480,"x":-0.4,"y":8.9},{"p":"f","t":485,"x":0.4,"y":8.0},{"p":"f","t":490,"x":1.0,"y":7.4},{"p":"f","t":495,"x":0.8,"y":6.9},{"p":"f","t":500,"x":0.3,"y":6.9},{"p":"f","t":505,"x":-0.6,"y":5.6},{"p":"f","t":510,"x":0.9,"y":6.2},{"p":"f","t":515,"x":1.0,"y":6.5},{"p":"f","t":520,"x":1.0,"y":5.4},{"p":"f","t":525,"x":0.4,"y":5.8},{"p":"f","t":530,"x":0.9,"y":6.1},{"p":"f","t":535,"x":1.2,"y":5.6},{"p":"f","t":540,"x":1.4,"y":5.1},{"p":"f","t":545,"x":-0.2,"y":4.7},{"p":"f","t":550,"x":-0.1,"y":5.9},{"p":"f","t":555,"x":0.6,"y":5.6},{"p":"f","t":560,"x":0.7,"y":5.8},{"p":"f","t":565,"x":-0.1,"y":6.6},{"p":"f","t":570,"x":0.1,"y":8.0},{"p":"f","t":575,"x":0.1,"y":8.2},{"p":"f","t":580,"x":0.7,"y":9.2},{"p":"f","t":585,"x":0.8,"y":9.1},{"p":"f","t":590,"x":0.8,"y":8.6},{"p":"f","t":595,"x":0.4,"y":7.3},{"p":"f","t":600,"x":0.1,"y":7.0},{"p":"f","t":605,"x":0.6,"y":7.6},{"p":"f","t":610,"x":0.7,"y":7.0},{"p":"f","t":615,"x":0.9,"y":6.3},{"p":"f","t":620,"x":0.6,"y":5.6},{"p":"f","t":625,"x":-0.1,"y":5.4},{"p":"f","t":630,"x":-0.3,"y":5.8},{"p":"f","t":635,"x":0.5,"y":5.6},{"p":"f","t":640,"x":1.5,"y":5.4},{"p":"f","t":645,"x":1.1,"y":5.6},{"p":"f","t":650,"x":-0.2,"y":6.0},{"p":"f","t":655,"x":1.1,"y":6.5},{"p":"f","t":660,"x":0.8,"y":7.4},{"p":"f","t":665,"x":1.1,"y":6.5},{"p":"f","t":670,"x":0.6,"y":5.5},{"p":"f","t":675,"x":0.9,"y":5.8},{"p":"f","t":680,"x":0.8,"y":6.3}
  ]},
  "vconcat": [
    {
      "width": 1016, "height": 240.5,
      "transform": [{"filter": "datum.p === 'a'"}],
      "layer": [
        {"mark": {"type": "line", "color": "#00AEEF", "strokeWidth": 2.2},
         "encoding": {
           "x": {"field": "t", "type": "quantitative", "scale": {"domain": [0, 680], "nice": false, "zero": false}, "axis": {"orient": "bottom", "values": [0, 100, 200, 300, 400, 500, 600], "labels": false, "title": null}},
           "y": {"field": "x", "type": "quantitative", "scale": {"domain": [-10, 15], "nice": false, "zero": false}, "axis": {"orient": "left", "values": [-10, 0, 10], "title": "x − x₀ (μm)"}}}},
        {"mark": {"type": "line", "color": "#F7941D", "strokeWidth": 2},
         "encoding": {
           "x": {"field": "t", "type": "quantitative", "axis": {"orient": "top", "values": [0, 100, 200, 300, 400, 500, 600], "labels": false, "title": null}},
           "y": {"field": "y", "type": "quantitative", "scale": {"domain": [-5, 20], "nice": false, "zero": false}, "axis": {"orient": "right", "values": [0, 10, 20], "title": "y − y₀ (μm)"}}}},
        {"data": {"values": [{"p": "a", "label": "a)"}]},
         "mark": {"type": "text", "font": "Lato", "fontWeight": "bold", "fontSize": 58, "align": "left", "baseline": "alphabetic", "color": "black"},
         "encoding": {
           "x": {"datum": 15.5, "type": "quantitative", "axis": null},
           "y": {"datum": 9.5, "type": "quantitative", "scale": {"domain": [-10, 15], "nice": false, "zero": false}, "axis": null},
           "text": {"field": "label"}}}
      ],
      "resolve": {"scale": {"y": "independent"}, "axis": {"x": "independent"}}
    },
    {
      "width": 1016, "height": 240.5,
      "transform": [{"filter": "datum.p === 'b'"}],
      "layer": [
        {"mark": {"type": "line", "color": "#00AEEF", "strokeWidth": 2.2},
         "encoding": {
           "x": {"field": "t", "type": "quantitative", "scale": {"domain": [0, 680], "nice": false, "zero": false}, "axis": {"orient": "bottom", "values": [0, 100, 200, 300, 400, 500, 600], "labels": false, "title": null}},
           "y": {"field": "x", "type": "quantitative", "scale": {"domain": [-10, 15], "nice": false, "zero": false}, "axis": {"orient": "left", "values": [-10, 0, 10], "title": "x − x₀ (μm)"}}}},
        {"mark": {"type": "line", "color": "#F7941D", "strokeWidth": 2},
         "encoding": {
           "x": {"field": "t", "type": "quantitative", "axis": {"orient": "top", "values": [0, 100, 200, 300, 400, 500, 600], "labels": false, "title": null}},
           "y": {"field": "y", "type": "quantitative", "scale": {"domain": [-5, 20], "nice": false, "zero": false}, "axis": {"orient": "right", "values": [0, 10, 20], "title": "y − y₀ (μm)"}}}},
        {"data": {"values": [{"p": "b", "label": "b)"}]},
         "mark": {"type": "text", "font": "Lato", "fontWeight": "bold", "fontSize": 58, "align": "left", "baseline": "alphabetic", "color": "black"},
         "encoding": {
           "x": {"datum": 15.5, "type": "quantitative", "axis": null},
           "y": {"datum": 9.5, "type": "quantitative", "scale": {"domain": [-10, 15], "nice": false, "zero": false}, "axis": null},
           "text": {"field": "label"}}}
      ],
      "resolve": {"scale": {"y": "independent"}, "axis": {"x": "independent"}}
    },
    {
      "width": 1016, "height": 240.5,
      "transform": [{"filter": "datum.p === 'c'"}],
      "layer": [
        {"mark": {"type": "line", "color": "#00AEEF", "strokeWidth": 2.2},
         "encoding": {
           "x": {"field": "t", "type": "quantitative", "scale": {"domain": [0, 680], "nice": false, "zero": false}, "axis": {"orient": "bottom", "values": [0, 100, 200, 300, 400, 500, 600], "labels": false, "title": null}},
           "y": {"field": "x", "type": "quantitative", "scale": {"domain": [-10, 15], "nice": false, "zero": false}, "axis": {"orient": "left", "values": [-10, 0, 10], "title": "x − x₀ (μm)"}}}},
        {"mark": {"type": "line", "color": "#F7941D", "strokeWidth": 2},
         "encoding": {
           "x": {"field": "t", "type": "quantitative", "axis": {"orient": "top", "values": [0, 100, 200, 300, 400, 500, 600], "labels": false, "title": null}},
           "y": {"field": "y", "type": "quantitative", "scale": {"domain": [-5, 20], "nice": false, "zero": false}, "axis": {"orient": "right", "values": [0, 10, 20], "title": "y − y₀ (μm)"}}}},
        {"data": {"values": [{"p": "c", "label": "c)"}]},
         "mark": {"type": "text", "font": "Lato", "fontWeight": "bold", "fontSize": 58, "align": "left", "baseline": "alphabetic", "color": "black"},
         "encoding": {
           "x": {"datum": 15.5, "type": "quantitative", "axis": null},
           "y": {"datum": 9.5, "type": "quantitative", "scale": {"domain": [-10, 15], "nice": false, "zero": false}, "axis": null},
           "text": {"field": "label"}}}
      ],
      "resolve": {"scale": {"y": "independent"}, "axis": {"x": "independent"}}
    },
    {
      "width": 1016, "height": 240.5,
      "transform": [{"filter": "datum.p === 'd'"}],
      "layer": [
        {"mark": {"type": "line", "color": "#00AEEF", "strokeWidth": 2.2},
         "encoding": {
           "x": {"field": "t", "type": "quantitative", "scale": {"domain": [0, 680], "nice": false, "zero": false}, "axis": {"orient": "bottom", "values": [0, 100, 200, 300, 400, 500, 600], "labels": false, "title": null}},
           "y": {"field": "x", "type": "quantitative", "scale": {"domain": [-10, 15], "nice": false, "zero": false}, "axis": {"orient": "left", "values": [-10, 0, 10], "title": "x − x₀ (μm)"}}}},
        {"mark": {"type": "line", "color": "#F7941D", "strokeWidth": 2},
         "encoding": {
           "x": {"field": "t", "type": "quantitative", "axis": {"orient": "top", "values": [0, 100, 200, 300, 400, 500, 600], "labels": false, "title": null}},
           "y": {"field": "y", "type": "quantitative", "scale": {"domain": [-5, 20], "nice": false, "zero": false}, "axis": {"orient": "right", "values": [0, 10, 20], "title": "y − y₀ (μm)"}}}},
        {"data": {"values": [{"p": "d", "label": "d)"}]},
         "mark": {"type": "text", "font": "Lato", "fontWeight": "bold", "fontSize": 58, "align": "left", "baseline": "alphabetic", "color": "black"},
         "encoding": {
           "x": {"datum": 15.5, "type": "quantitative", "axis": null},
           "y": {"datum": 9.5, "type": "quantitative", "scale": {"domain": [-10, 15], "nice": false, "zero": false}, "axis": null},
           "text": {"field": "label"}}}
      ],
      "resolve": {"scale": {"y": "independent"}, "axis": {"x": "independent"}}
    },
    {
      "width": 1016, "height": 240.5,
      "transform": [{"filter": "datum.p === 'e'"}],
      "layer": [
        {"mark": {"type": "line", "color": "#00AEEF", "strokeWidth": 2.2},
         "encoding": {
           "x": {"field": "t", "type": "quantitative", "scale": {"domain": [0, 680], "nice": false, "zero": false}, "axis": {"orient": "bottom", "values": [0, 100, 200, 300, 400, 500, 600], "labels": false, "title": null}},
           "y": {"field": "x", "type": "quantitative", "scale": {"domain": [-10, 15], "nice": false, "zero": false}, "axis": {"orient": "left", "values": [-10, 0, 10], "title": "x − x₀ (μm)"}}}},
        {"mark": {"type": "line", "color": "#F7941D", "strokeWidth": 2},
         "encoding": {
           "x": {"field": "t", "type": "quantitative", "axis": {"orient": "top", "values": [0, 100, 200, 300, 400, 500, 600], "labels": false, "title": null}},
           "y": {"field": "y", "type": "quantitative", "scale": {"domain": [-5, 20], "nice": false, "zero": false}, "axis": {"orient": "right", "values": [0, 10, 20], "title": "y − y₀ (μm)"}}}},
        {"data": {"values": [{"p": "e", "label": "e)"}]},
         "mark": {"type": "text", "font": "Lato", "fontWeight": "bold", "fontSize": 58, "align": "left", "baseline": "alphabetic", "color": "black"},
         "encoding": {
           "x": {"datum": 15.5, "type": "quantitative", "axis": null},
           "y": {"datum": 9.5, "type": "quantitative", "scale": {"domain": [-10, 15], "nice": false, "zero": false}, "axis": null},
           "text": {"field": "label"}}}
      ],
      "resolve": {"scale": {"y": "independent"}, "axis": {"x": "independent"}}
    },
    {
      "width": 1016, "height": 240.5,
      "transform": [{"filter": "datum.p === 'f'"}],
      "layer": [
        {"mark": {"type": "line", "color": "#00AEEF", "strokeWidth": 2.2},
         "encoding": {
           "x": {"field": "t", "type": "quantitative", "scale": {"domain": [0, 680], "nice": false, "zero": false}, "axis": {"orient": "bottom", "values": [0, 100, 200, 300, 400, 500, 600], "title": "t (s)", "labelPadding": 18, "titlePadding": 5}},
           "y": {"field": "x", "type": "quantitative", "scale": {"domain": [-10, 15], "nice": false, "zero": false}, "axis": {"orient": "left", "values": [-10, 0, 10], "title": "x − x₀ (μm)"}}}},
        {"mark": {"type": "line", "color": "#F7941D", "strokeWidth": 2},
         "encoding": {
           "x": {"field": "t", "type": "quantitative", "axis": {"orient": "top", "values": [0, 100, 200, 300, 400, 500, 600], "labels": false, "title": null}},
           "y": {"field": "y", "type": "quantitative", "scale": {"domain": [-5, 20], "nice": false, "zero": false}, "axis": {"orient": "right", "values": [0, 10, 20], "title": "y − y₀ (μm)"}}}},
        {"data": {"values": [{"p": "f", "label": "f)"}]},
         "mark": {"type": "text", "font": "Lato", "fontWeight": "bold", "fontSize": 58, "align": "left", "baseline": "alphabetic", "color": "black"},
         "encoding": {
           "x": {"datum": 15.5, "type": "quantitative", "axis": null},
           "y": {"datum": 9.5, "type": "quantitative", "scale": {"domain": [-10, 15], "nice": false, "zero": false}, "axis": null},
           "text": {"field": "label"}}}
      ],
      "resolve": {"scale": {"y": "independent"}, "axis": {"x": "independent"}}
    }
  ]
}
